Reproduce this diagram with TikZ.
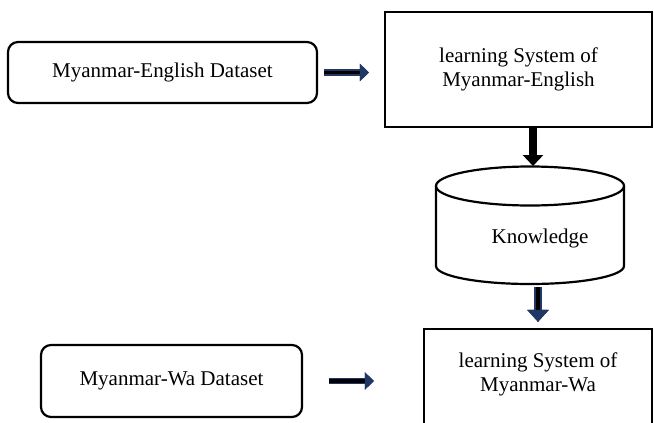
\documentclass[tikz,border=0pt]{standalone}
\usepackage{fontspec}
\setmainfont{Liberation Serif}
\usetikzlibrary{arrows.meta}

\definecolor{pfeilblau}{RGB}{31,56,100}

\tikzset{
    datenbox/.style={draw, line width=2.2pt, rounded corners=10pt, align=center, inner sep=0pt},
    lernbox/.style={draw, line width=2.2pt, align=center, inner sep=0pt},
    blaupfeil/.style={draw=pfeilblau, line width=6.5pt,
        -{Triangle[length=#1, width=17pt, color=pfeilblau]},
        postaction={draw=black, line width=3.2pt, -{Triangle[length=#1, width=17pt, color=pfeilblau]}}},
    blaupfeil/.default=9pt,
    dickpfeil/.style={blaupfeil=12pt, line width=8pt,
        -{Triangle[length=12pt, width=21pt, color=pfeilblau]},
        postaction={draw=black, line width=4pt, -{Triangle[length=12pt, width=21pt, color=pfeilblau]}}},
    schwarzpfeil/.style={draw=black, line width=8pt, -{Triangle[length=11pt, width=20pt]}},
}

\begin{document}
\begin{tikzpicture}[x=1pt, y=-1pt, font=\fontsize{21}{24.5}\selectfont]
                % Rahmen
                \useasboundingbox (0,0) rectangle (654,423);
                \clip (0,0) rectangle (654,423);

                % Kästen
                \node[datenbox, minimum width=309pt, minimum height=61pt] (engdata) at (162.5,72.5) {Myanmar-English Dataset};
                \node[lernbox, minimum width=267pt, minimum height=115pt] (englearn) at (518.5,69.5) {learning System of\\Myanmar-English};
                \node[datenbox, minimum width=261pt, minimum height=72pt] (wadata) at (171.5,381) {Myanmar-Wa Dataset};
                \node[lernbox, minimum width=228pt, minimum height=121pt] (walearn) at (538,389.5) {};
                \node[align=center] (walearntxt) at (538,374.5) {learning System of\\Myanmar-Wa};

                % Zylinder (Wissen)
                \draw[line width=2.2pt] (436,186) -- (436,266) arc[start angle=180, end angle=360, x radius=94pt, y radius=18pt] -- (624,186);
                \draw[line width=2.2pt] (530,186) ellipse[x radius=94pt, y radius=19.5pt];
                \node (wissen) at (540,238) {Knowledge};
                \coordinate (kboben) at (533,166);
                \coordinate (kbunten) at (538,287);

                % Pfeile
                \draw[blaupfeil, shorten <=6pt, shorten >=15pt] (engdata.east) -- (engdata.east -| englearn.west);
                \draw[schwarzpfeil] (englearn.south -| kboben) -- (kboben);
                \draw[dickpfeil, shorten >=6pt] (kbunten) -- (kbunten |- walearn.north);
                \draw[blaupfeil, shorten <=26pt, shorten >=49pt] (wadata.east) -- (wadata.east -| walearn.west);
\end{tikzpicture}
\end{document}
